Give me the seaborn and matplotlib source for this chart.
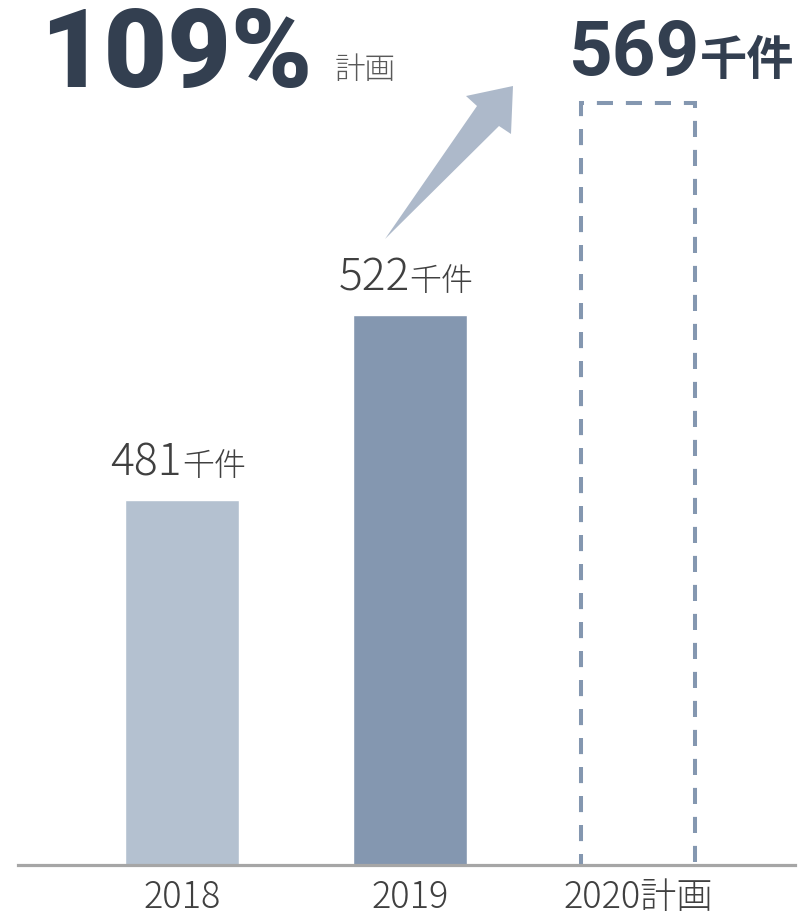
import matplotlib
matplotlib.use("Agg")
import matplotlib.pyplot as plt
from matplotlib.patches import Polygon
from matplotlib.transforms import offset_copy
import seaborn as sns
import pandas as pd

# Orders received (thousand cases) per fiscal year
years = ["2018", "2019", "2020計画"]
values = [481, 522, 569]
bar_colors = ["#B4C1D0", "#8497B0", "#FFFFFF"]
unit = "千件"
growth_label = "109%"
growth_note = "計画"

sns.set_theme(style="white")
plt.rcParams["font.family"] = ["Noto Sans CJK JP", "DejaVu Sans"]

df = pd.DataFrame({"year": years, "value": values})

W, H = 805, 920
fig = plt.figure(figsize=(W / 100, H / 100), dpi=100)
fig.patch.set_facecolor("white")
ax = fig.add_axes([18 / W, 54 / H, 777 / W, 866 / H])

sns.barplot(data=df, x="year", y="value", hue="year", palette=bar_colors,
            width=0.5, saturation=1, legend=False, ax=ax)

ax.set_xlim(-0.72, 2.69)
ax.set_ylim(400, 592)

bars = [c.patches[0] for c in ax.containers]

# planned year: dashed outline only
plan = bars[2]
plan.set_facecolor("none")
plan.set_edgecolor("#8497B0")
plan.set_linewidth(2.9)
plan.set_linestyle((0, (4.0, 3.2)))

for s in ["left", "top", "right"]:
    ax.spines[s].set_visible(False)
ax.spines["bottom"].set_color("#A6A6A6")
ax.spines["bottom"].set_linewidth(2.3)
ax.spines["bottom"].set_zorder(5)
ax.set_xlabel("")
ax.set_ylabel("")
ax.set_yticks([])
ax.tick_params(axis="x", length=0, pad=9)
for lbl in ax.get_xticklabels():
    lbl.set_fontsize(26)
    lbl.set_color("#404040")
    lbl.set_fontweight("light")

fig.canvas.draw()
renderer = fig.canvas.get_renderer()


def label_pair(x, y, num, num_kw, unit_kw, dy, align="center", dx=0, gap=1):
    """Draw a number followed by a smaller unit, grouped together."""
    t1 = ax.text(x, y, num, ha="left", va="baseline",
                 transform=offset_copy(ax.transData, fig=fig, x=0, y=dy, units="dots"),
                 **num_kw)
    t2 = ax.text(x, y, unit, ha="left", va="baseline",
                 transform=offset_copy(ax.transData, fig=fig, x=0, y=dy, units="dots"),
                 **unit_kw)
    w1 = t1.get_window_extent(renderer).width
    w2 = t2.get_window_extent(renderer).width
    total = w1 + gap + w2
    start = -total / 2 if align == "center" else 0
    start += dx
    t1.set_transform(offset_copy(ax.transData, fig=fig, x=start, y=dy, units="dots"))
    t2.set_transform(offset_copy(ax.transData, fig=fig, x=start + w1 + gap, y=dy, units="dots"))


for i in range(2):
    b = bars[i]
    cx = b.get_x() + b.get_width() / 2
    label_pair(cx, values[i], str(values[i]),
               dict(fontsize=32, color="#404040", fontweight="light"),
               dict(fontsize=23, color="#404040", fontweight="light"),
               dy=25, dx=-4, gap=0)

# planned value, bold, above the outline
label_pair(plan.get_x(), values[2], str(values[2]),
           dict(fontsize=55, color="#333F50", fontweight="bold",
                family=["Roboto", "Noto Sans CJK JP"]),
           dict(fontsize=34, color="#333F50", fontweight="bold"),
           dy=29, align="left", dx=-12, gap=0)

# growth headline
t = fig.text(40 / W, 1 - 87 / H, growth_label, ha="left", va="baseline",
             fontsize=79, fontweight="black", color="#333F50",
             family=["Roboto", "DejaVu Sans"])
ext = t.get_window_extent(renderer)
fig.text((ext.x1 + 22) / W, 1 - 79 / H, growth_note, ha="left", va="baseline",
         fontsize=22, color="#595959", fontweight="light")

# rising arrow from 2019 towards the plan
arrow_px = [(385, 240), (477, 107), (466, 97), (513, 87),
            (511, 135), (499, 127)]
arrow = Polygon([(x / W, 1 - y / H) for x, y in arrow_px], closed=True,
                transform=fig.transFigure, facecolor="#ADB9CA",
                edgecolor="none")
fig.patches.append(arrow)

fig.savefig("out.png", dpi=100)
